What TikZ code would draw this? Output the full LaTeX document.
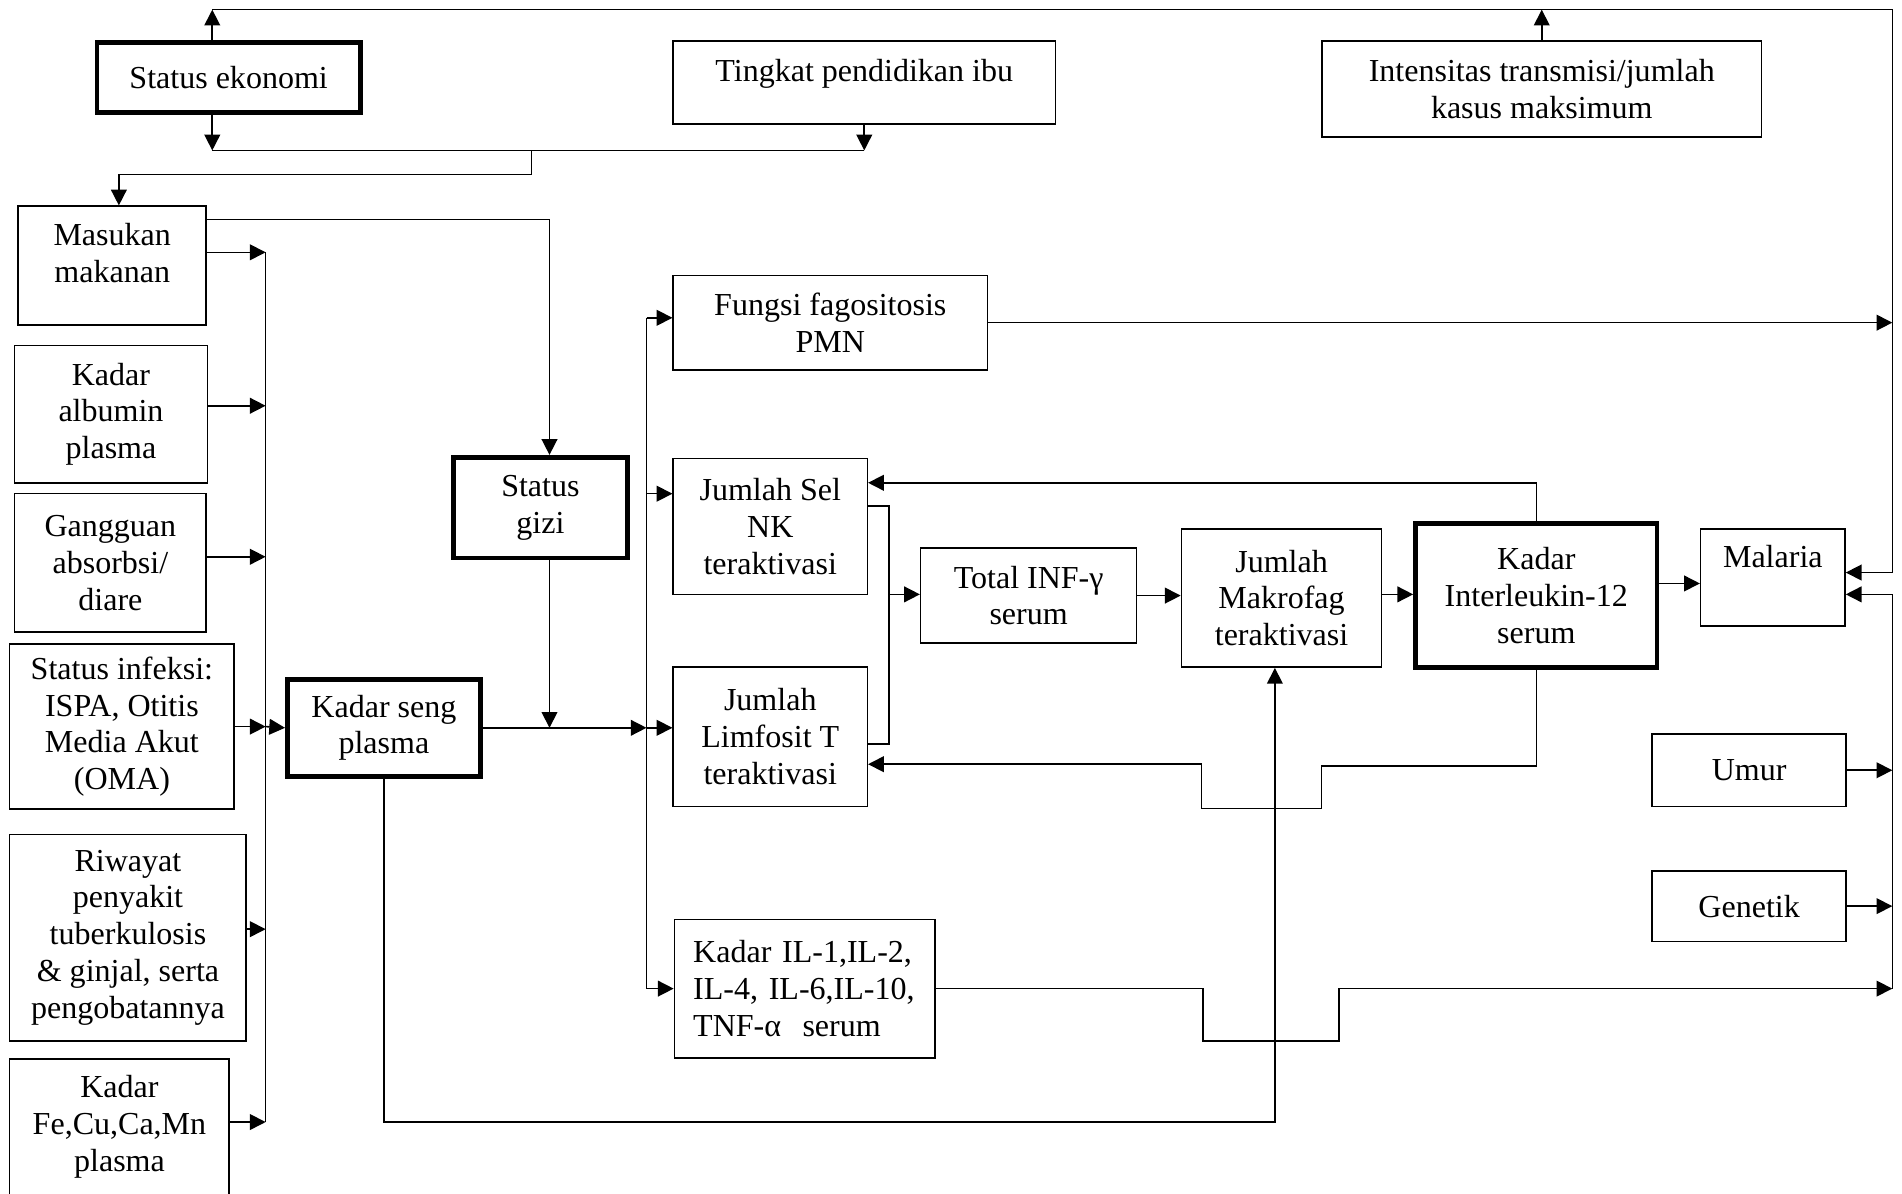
\documentclass[tikz,border=0pt]{standalone}
\usepackage{fontspec}
\setmainfont{Liberation Serif}
\usetikzlibrary{arrows.meta}

\tikzset{
  box/.style={draw, line width=0.65pt, inner sep=0pt, align=center,
    font=\fontsize{13.2}{15.2}\selectfont},
  boldbox/.style={box, line width=2pt},
  arr/.style={-{Triangle[length=6.5pt,width=6.5pt]}},
}

\begin{document}
\begin{tikzpicture}[x=0.5pt,y=-0.5pt,line width=0.65pt]
\useasboundingbox (0,0) rectangle (1568,984);

% top row
\node[boldbox, minimum width=108.5pt, minimum height=29pt] (ekon) at (188.5,64) {Status ekonomi};
\node[box, minimum width=157.5pt, minimum height=34pt] (didik) at (712.5,68) {Tingkat pendidikan ibu\\[-5pt]\mbox{}};
\node[box, minimum width=181pt, minimum height=39.5pt] (trans) at (1271,73.5) {Intensitas transmisi/jumlah\\kasus maksimum};

% left column
\node[box, minimum width=77.5pt, minimum height=49pt] (makan) at (92.5,219) {Masukan\\makanan\\[-5pt]\mbox{}};
\node[box, minimum width=79.5pt, minimum height=56.5pt] (albu) at (91.5,341.5) {Kadar\\albumin\\plasma};
\node[box, minimum width=79pt, minimum height=57pt] (diare) at (91,464) {Gangguan\\absorbsi/\\diare};
\node[box, minimum width=92.5pt, minimum height=68pt] (infek) at (100.5,599) {Status infeksi:\\ISPA, Otitis\\Media Akut\\(OMA)};
\node[box, minimum width=97.5pt, minimum height=85pt] (tbc) at (105.5,773) {Riwayat\\penyakit\\tuberkulosis\\\& ginjal, serta\\pengobatannya};
\node[box, minimum width=90.5pt, minimum height=63.5pt] (mineral) at (98.5,936.5) {Kadar\\Fe,Cu,Ca,Mn\\plasma\\[-5pt]\mbox{}};

\node[boldbox, minimum width=79.5pt, minimum height=40pt] (seng) at (316.5,600) {Kadar seng\\plasma};
\node[boldbox, minimum width=71.5pt, minimum height=41.5pt] (gizi) at (445.5,418.5) {Status\\gizi};

% immune responses
\node[box, minimum width=129.5pt, minimum height=39pt] (pmn) at (684.5,266) {Fungsi fagositosis\\PMN};
\node[box, minimum width=80pt, minimum height=56pt] (nk) at (635,434) {Jumlah Sel\\NK\\teraktivasi};
\node[box, minimum width=80pt, minimum height=57.5pt] (limfo) at (635,607.5) {Jumlah\\Limfosit T\\teraktivasi};
\node[box, minimum width=107.5pt, minimum height=57pt, text width=92pt, align=left] (sitokin) at (663.5,815) {Kadar IL-1,IL-2,\\IL-4, IL-6,IL-10,\\TNF-α~ serum};
\node[box, minimum width=89pt, minimum height=39pt] (inf) at (848,491) {Total INF-γ\\serum};
\node[box, minimum width=82.5pt, minimum height=57pt] (makro) at (1056.5,493) {Jumlah\\Makrofag\\teraktivasi};
\node[boldbox, minimum width=99.5pt, minimum height=59.5pt] (il12) at (1266.5,491) {Kadar\\Interleukin-12\\serum};

% outcome
\node[box, minimum width=59.5pt, minimum height=40pt] (malaria) at (1461.5,476) {Malaria\\[2pt]\mbox{}};
\node[box, minimum width=80pt, minimum height=30pt] (umur) at (1442,635) {Umur};
\node[box, minimum width=80pt, minimum height=29pt] (genetik) at (1442,747) {Genetik};

% bends and bus lines
\coordinate (nw) at (175,8);
\coordinate (ne) at (1560,8);
\coordinate (ma) at (1560,472);
\coordinate (sej) at (175,124);
\coordinate (split) at (438,124);
\coordinate (mk) at (98,144);
\coordinate (bust) at (219,208);
\coordinate (busb) at (219,925);
\coordinate (gz) at (453,181);
\coordinate (busBt) at (533,262);
\coordinate (busBb) at (533,815);
\coordinate (busCt) at (1560,490);
\coordinate (busCb) at (1560,815);
\coordinate (tie) at (733,490);
\coordinate (mb) at (1051,925);

% top loop
\draw[arr] (nw |- ekon.north) -- (nw);
\draw[arr] (trans.north) -- (trans.north |- nw);
\draw[arr] (nw) -- (ne) -- (ma) -- (ma -| malaria.east);
\draw[arr] (nw |- ekon.south) -- (sej);
\draw[arr] (didik.south) -- (didik.south |- sej);
\draw (sej) -- (didik.south |- sej);
\draw[arr] (split) |- (mk) -- (mk |- makan.north);

% left bus
\draw (bust) -- (busb);
\draw[arr] (makan.east |- bust) -- (bust);
\draw[arr] ([yshift=3.5pt]albu.east) -- ([yshift=3.5pt]albu.east -| bust);
\draw[arr] ([yshift=2.5pt]diare.east) -- ([yshift=2.5pt]diare.east -| bust);
\draw[arr] (infek.east) -- (infek.east -| bust);
\draw[arr] ([yshift=3.5pt]tbc.east) -- ([yshift=3.5pt]tbc.east -| bust);
\draw[arr] (mineral.east |- busb) -- (busb);
\draw[arr] (infek.east -| bust) -- (seng.west);

% nutrition
\draw[arr] (makan.east |- gz) -- (gz) -- (gz |- gizi.north);
\draw[arr] (gz |- gizi.south) -- (gz |- seng.east);
\draw[arr] (seng.east) -- (seng.east -| busBt);

% middle bus
\draw (busBt) -- (busBb);
\draw[arr] (busBt) -- (busBt -| pmn.west);
\draw[arr] ([yshift=13.5pt]nk.west -| busBt) -- ([yshift=13.5pt]nk.west);
\draw[arr] (busBt |- seng.east) -- (limfo.west |- seng.east);
\draw[arr] (busBb) -- (busBb -| sitokin.west);

% cascade
\draw ([yshift=8.5pt]nk.east) -| (tie);
\draw ([yshift=-3pt]limfo.east) -| (tie);
\draw[arr] (tie) -- (tie -| inf.west);
\draw[arr] (inf.east) -- (inf.east -| makro.west);
\draw[arr] (makro.east |- tie) -- (tie -| il12.west);
\draw[arr] ([yshift=5pt]il12.east) -- ([yshift=5pt]il12.east -| malaria.west);

% feedback
\draw[arr] (il12.north) |- ([yshift=18pt]nk.east);
\draw[arr] (il12.south) |- ++(-177,79) |- ++(-99,35) |- ([yshift=-11.25pt]limfo.east);
\draw[arr] (seng.south) |- (mb) -- (mb |- makro.south);

% right bus
\draw[arr] (pmn.east) -- (pmn.east -| busCt);
\draw[arr] (busCb) -- (busCt) -- (busCt -| malaria.east);
\draw[arr] (umur.east) -- (umur.east -| busCt);
\draw[arr] (genetik.east) -- (genetik.east -| busCt);
\draw[arr] (sitokin.east) -- ++(220,0) |- ++(112,43) |- (busCb);

\end{tikzpicture}
\end{document}
